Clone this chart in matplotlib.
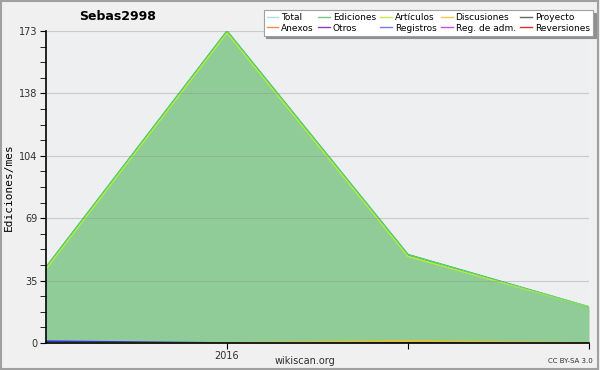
import matplotlib
matplotlib.use("Agg")
import matplotlib.pyplot as plt
from matplotlib.lines import Line2D
from matplotlib.patches import Rectangle

months = [0, 1, 2, 3]  # 2015-12 .. 2016-03
total = [42, 173, 49, 20]
ediciones = [42, 173, 49, 20]
articulos = [41, 172, 48, 20]
discusiones = [0, 0, 1, 0]
registros = [1, 0, 0, 0]
zeros = [0, 0, 0, 0]

series_names = ['Total', 'Anexos', 'Ediciones', 'Otros', 'Artículos', 'Registros',
                'Discusiones', 'Reg. de adm.', 'Proyecto', 'Reversiones']
series_colors = ['#a8e4e4', '#f08a50', '#78c888', '#8a3cc8', '#c8ec50', '#7878f0',
                 '#f4c850', '#c850e0', '#686868', '#e03030']

fig = plt.figure(figsize=(6, 3.7), dpi=100, facecolor='#f0f0f0')
fig.patches.append(Rectangle((0.002, 0.003), 0.995, 0.994, transform=fig.transFigure,
                             fill=False, edgecolor='#a0a0a0', linewidth=1.5))
ax = fig.add_axes([0.0767, 0.073, 0.905, 0.843])
ax.set_facecolor('#eeeff1')

ax.fill_between(months, 0, ediciones, color='#90cc98', linewidth=0)
ax.plot(months, ediciones, color='#3cb030', linewidth=1.2)
ax.plot(months, articulos, color='#b8f030', linewidth=1.0)
ax.plot(months, total, color='#60d8a0', linewidth=0.6)
ax.plot(months, registros, color='#3030e0', linewidth=1.2)
ax.plot(months, discusiones, color='#f0c020', linewidth=1.2)
ax.plot(months, zeros, color='#202020', linewidth=0.8)

ax.set_xlim(0, 3)
ax.set_ylim(0, 173)
yt = [173 * k / 5 for k in range(6)]
ax.set_yticks(yt)
ax.set_yticklabels([str(round(v)) for v in yt])
ax.set_yticks([173 * k / 20 for k in range(21)], minor=True)
ax.set_xticks([1, 2, 3])
ax.set_xticklabels(['2016', '', ''])
ax.tick_params(axis='both', labelsize=7, length=4, color='black', pad=2, labelcolor='#303030')
ax.tick_params(axis='y', which='minor', length=4)
ax.grid(axis='y', color='#909090', alpha=0.4, linewidth=0.8)
ax.set_axisbelow(False)
for s in ['top', 'right']:
    ax.spines[s].set_visible(False)
ax.spines['left'].set_linewidth(1.2)
ax.spines['bottom'].set_linewidth(1.2)
ax.set_ylabel('Ediciones/mes', fontsize=8, family='DejaVu Sans Mono', labelpad=4)

fig.text(0.196, 0.955, 'Sebas2998', fontsize=9, fontweight='bold', ha='center', va='center')
fig.text(0.508, 0.025, 'wikiscan.org', fontsize=7, ha='center', va='center', color='#303030')
fig.text(0.95, 0.025, 'CC BY-SA 3.0', fontsize=5, ha='center', va='center', color='#303030')

handles = [Line2D([], [], color=c, linewidth=1) for c in series_colors]
leg = fig.legend(handles, series_names, ncol=5, loc='upper right',
                 bbox_to_anchor=(0.988, 0.973), fontsize=6.5, frameon=True, fancybox=False,
                 shadow={'color': '#909090', 'alpha': 1}, handlelength=1.3, handletextpad=0.3,
                 columnspacing=0.5, labelspacing=0.15, borderpad=0.35, borderaxespad=0)
leg.get_frame().set_edgecolor('#a0a0a0')
leg.get_frame().set_linewidth(0.8)

fig.savefig('out.png', dpi=100, facecolor=fig.get_facecolor())
